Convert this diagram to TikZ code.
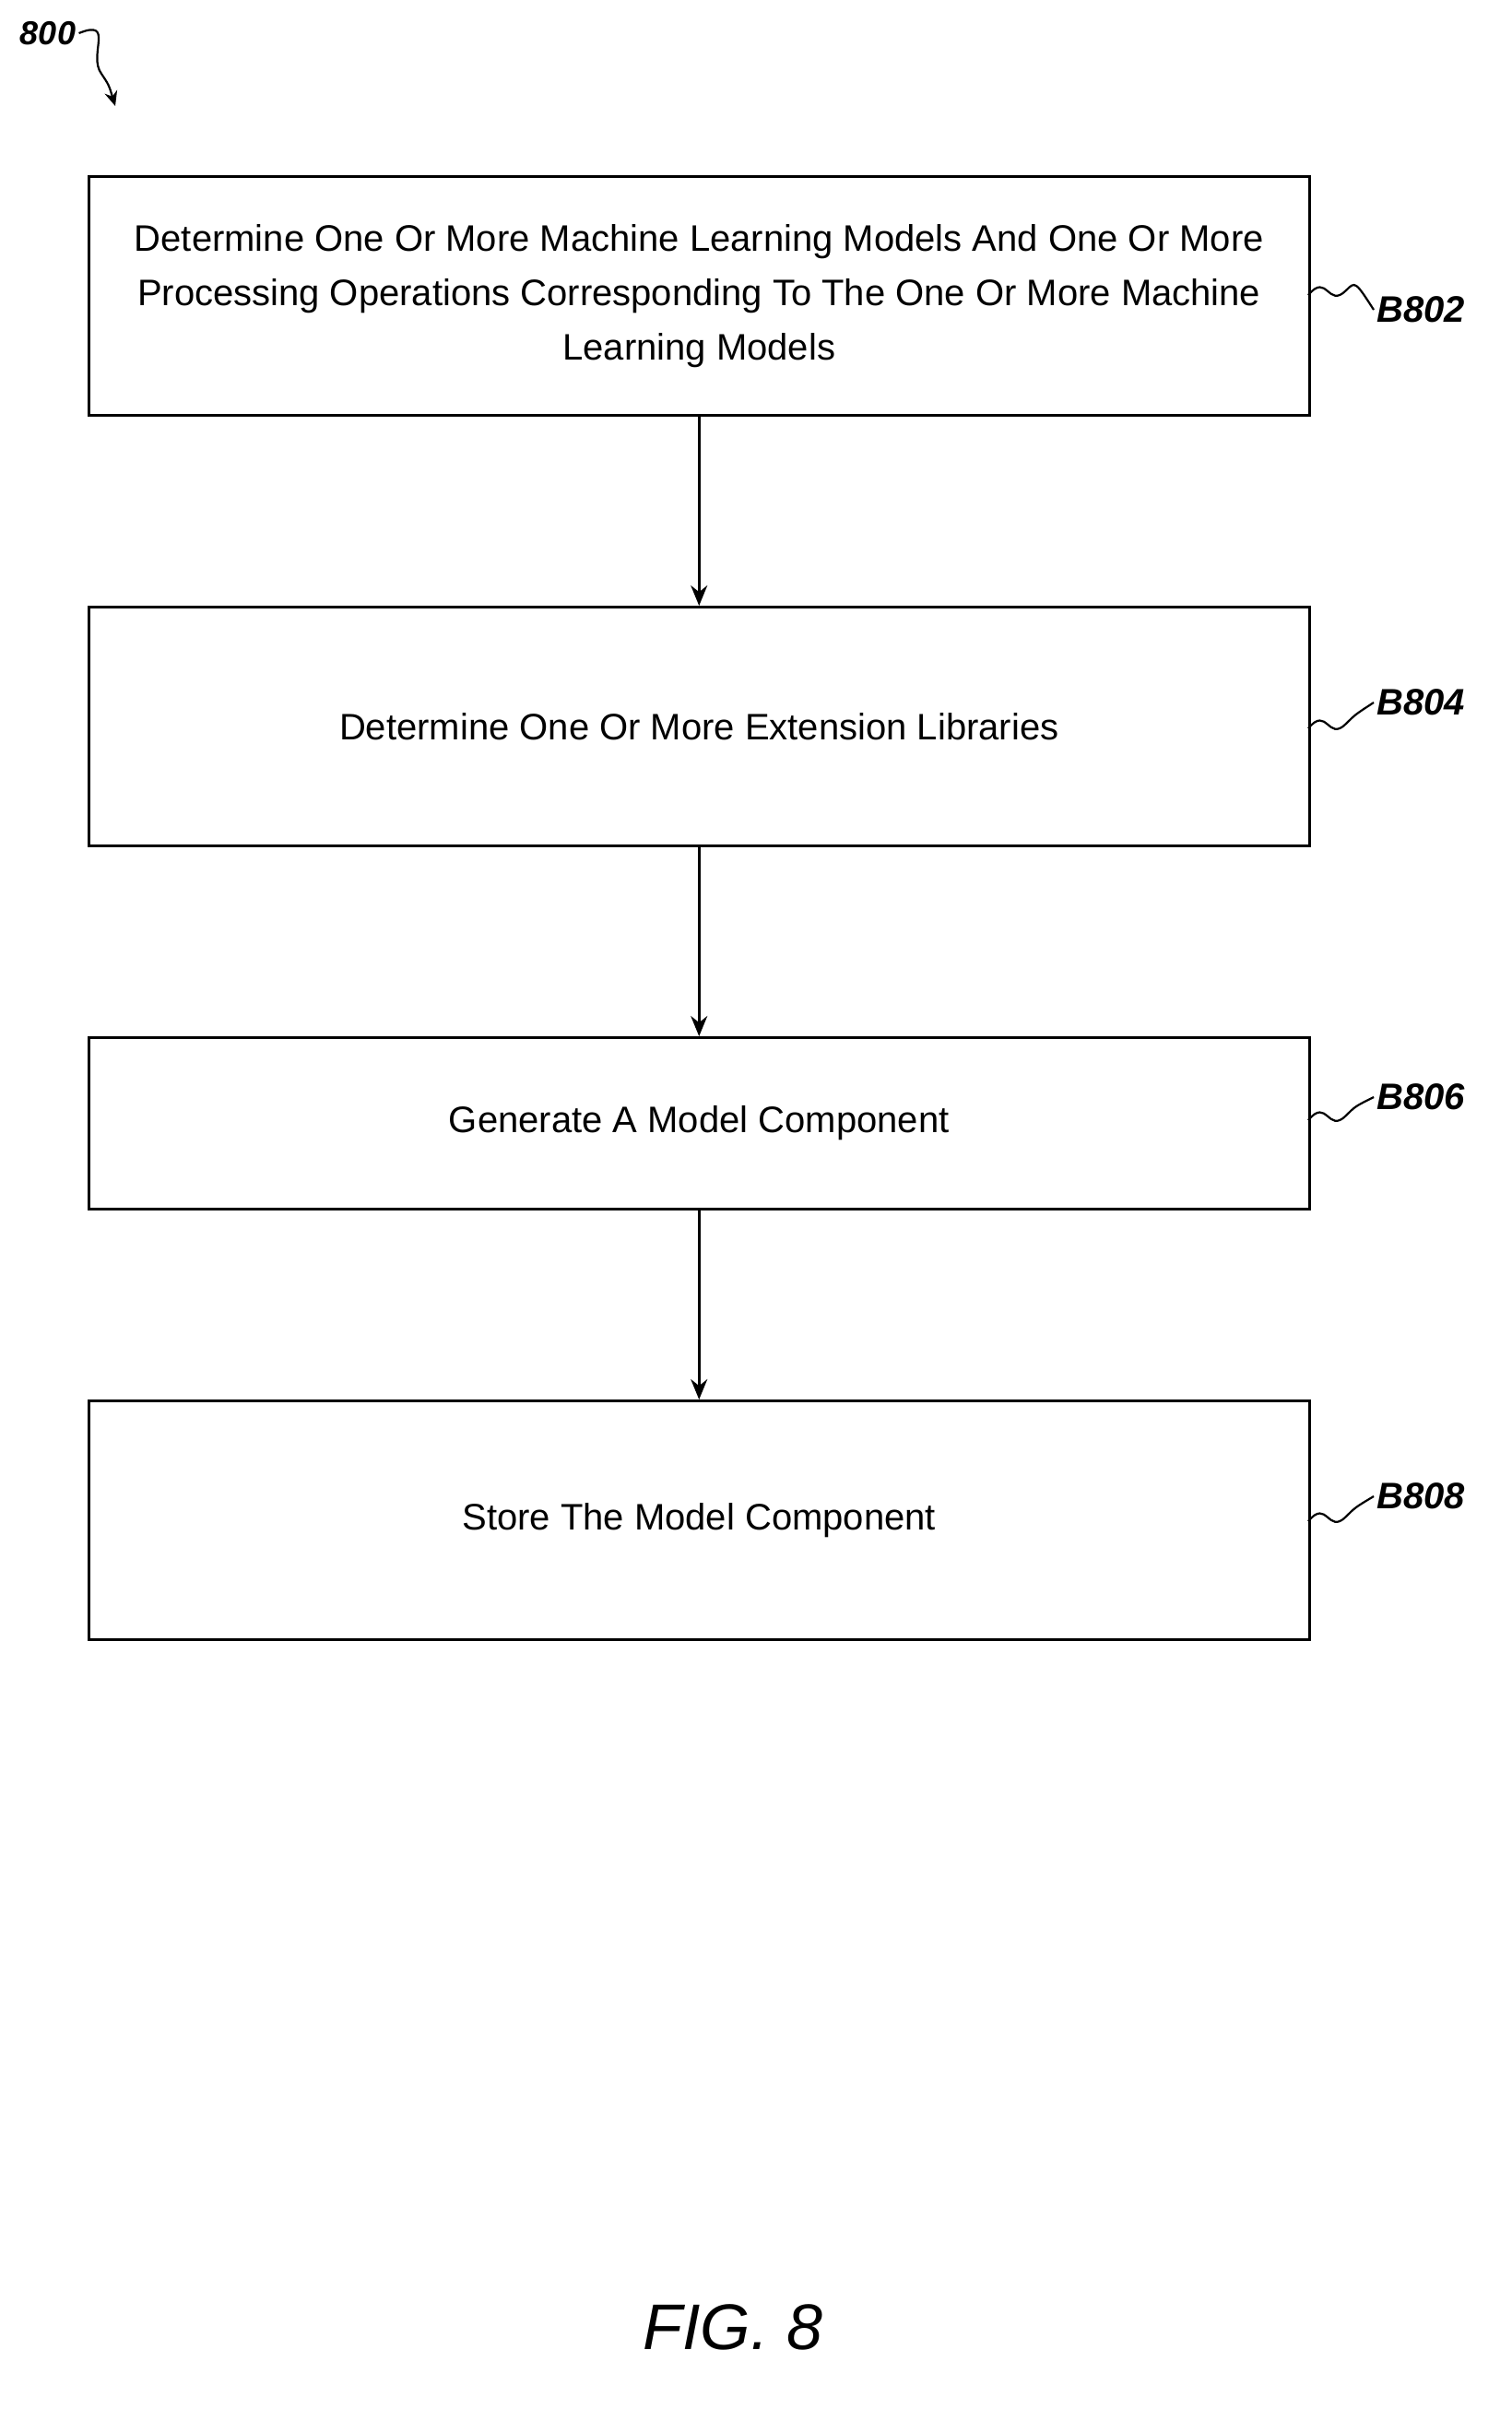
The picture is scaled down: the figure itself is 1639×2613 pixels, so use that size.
\documentclass[tikz,border=0pt]{standalone}
\usepackage{fontspec}
\setmainfont{Liberation Sans}
\usetikzlibrary{arrows.meta}
\begin{document}
\begin{tikzpicture}[x=1pt,y=-1pt,
  box/.style={draw,line width=2.5pt,minimum width=1324pt,anchor=north west,align=center,font=\fontsize{40}{59}\selectfont,inner sep=0pt},
  lbl/.style={font=\fontsize{40}{42}\selectfont\bfseries\itshape,anchor=west},
  arr/.style={line width=2.5pt,-{Stealth[length=22pt,width=18pt]}}]
\useasboundingbox (0,0) rectangle (1639,2613);
\node[box,minimum height=259pt] (b1) at (95,190) {Determine One Or More Machine Learning Models And One Or More\\Processing Operations Corresponding To The One Or More Machine\\Learning Models};
\node[box,minimum height=259pt] (b2) at (95,657) {Determine One Or More Extension Libraries};
\node[box,minimum height=186pt] (b3) at (95,1124) {Generate A Model Component};
\node[box,minimum height=259pt] (b4) at (95,1518) {Store The Model Component};
\draw[arr] (b1) -- (b2);
\draw[arr] (b2) -- (b3);
\draw[arr] (b3) -- (b4);
\node[lbl] (l1) at (1490,336) {B802};
\node[lbl] (l2) at (1490,762) {B804};
\node[lbl] (l3) at (1490,1190) {B806};
\node[lbl] (l4) at (1490,1623) {B808};
\foreach \b/\l/\y in {b1/l1/320, b2/l2/790, b3/l3/1215, b4/l4/1650}{
  \coordinate (s\b) at (1419,\y);
  \draw[line width=2.2pt] (s\b) .. controls (1440,\y-25) and (1440,\y+15) .. (1460,\y-5) .. controls (1470,\y-15) .. (\l.west);
}
\node[font=\fontsize{36}{38}\selectfont\bfseries\itshape] (n800) at (52,36) {800};
\coordinate (t800) at (125,115);
\draw[line width=2.2pt,-{Stealth[length=16pt,width=14pt]}] (n800.east) .. controls (125,20) and (95,60) .. (110,80) .. controls (118,92) .. (t800);
\node[font=\fontsize{70}{72}\selectfont\itshape] (fig) at (795,2524) {FIG. 8};
\end{tikzpicture}
\end{document}
